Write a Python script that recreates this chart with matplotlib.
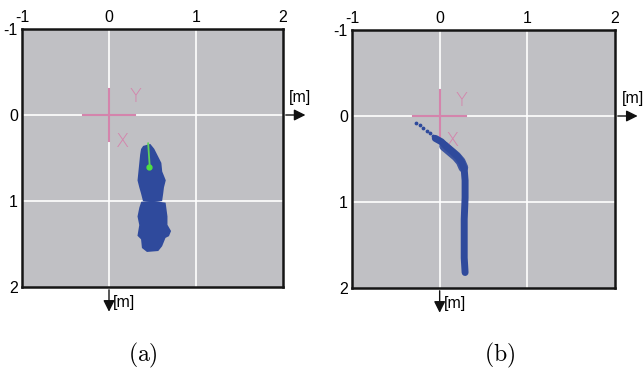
import matplotlib
matplotlib.use("Agg")
import matplotlib.pyplot as plt

plt.rcParams['font.family'] = ['Liberation Sans', 'DejaVu Sans']
plt.rcParams['mathtext.fontset'] = 'cm'

# axis ticks (both panels)
ticks = [-1, 0, 1, 2]
grid_at = [0, 1]

# panel (a): localisation estimates, two clusters (outlines)
blob1_x = [0.40, 0.47, 0.51, 0.55, 0.59, 0.60, 0.64, 0.62, 0.61, 0.60, 0.50, 0.40, 0.38, 0.36, 0.34, 0.35, 0.36, 0.37, 0.38]
blob1_y = [0.37, 0.35, 0.40, 0.48, 0.56, 0.66, 0.76, 0.84, 0.92, 0.99, 1.00, 0.99, 0.91, 0.84, 0.76, 0.66, 0.56, 0.46, 0.40]
blob2_x = [0.38, 0.50, 0.64, 0.66, 0.66, 0.70, 0.68, 0.64, 0.60, 0.56, 0.44, 0.39, 0.38, 0.34, 0.36, 0.34, 0.36]
blob2_y = [1.02, 1.01, 1.03, 1.18, 1.28, 1.35, 1.40, 1.42, 1.52, 1.57, 1.58, 1.54, 1.44, 1.40, 1.28, 1.18, 1.08]
green_x = [0.45, 0.46, 0.47]
green_y = [0.33, 0.48, 0.62]
green_dot = (0.46, 0.60)

# panel (b): trajectory
start_x = [-0.27, -0.23, -0.19, -0.15, -0.11, -0.08]
start_y = [0.08, 0.11, 0.14, 0.17, 0.20, 0.23]
traj_x = [-0.05, 0.02, 0.08, 0.15, 0.21, 0.25, 0.28, 0.29, 0.29, 0.28, 0.28, 0.28, 0.29]
traj_y = [0.26, 0.30, 0.36, 0.42, 0.48, 0.54, 0.62, 0.75, 0.95, 1.20, 1.45, 1.65, 1.82]
bend_x = [0.05, 0.12, 0.19, 0.24, 0.27]
bend_y = [0.35, 0.41, 0.47, 0.53, 0.60]

# robot frame labels per panel
frame_y_lbl = [(0.30, -0.22), (0.25, -0.18)]
frame_x_lbl = [(0.16, 0.31), (0.15, 0.29)]

bg = '#c0c0c4'
blue = '#2f4a9c'
pink = '#d484ac'

fig = plt.figure(figsize=(6.44, 3.74), dpi=100)
ax_a = fig.add_axes([22/644, 1 - 287/374, 261/644, 258/374])
ax_b = fig.add_axes([352/644, 1 - 288/374, 263/644, 258/374])

for i, ax in enumerate([ax_a, ax_b]):
    ax.set_facecolor(bg)
    ax.set_xlim(-1, 2)
    ax.set_ylim(2, -1)
    ax.set_xticks(ticks)
    ax.set_yticks(ticks)
    ax.set_xticklabels([str(t) for t in ticks])
    ax.set_yticklabels([str(t) for t in ticks])
    ax.xaxis.tick_top()
    ax.tick_params(length=0, labelsize=11.5, pad=3)
    for s in ax.spines.values():
        s.set_linewidth(1.8)
        s.set_color('#151515')
    for g in grid_at:
        ax.axvline(g, color='white', lw=1.4, alpha=0.85, zorder=1)
        ax.axhline(g, color='white', lw=1.4, alpha=0.85, zorder=1)

    # robot frame cross
    ax.plot([-0.3, 0.3], [0, 0], color=pink, lw=1.5, zorder=2)
    ax.plot([0, 0], [-0.3, 0.3], color=pink, lw=1.5, zorder=2)
    ax.text(*frame_y_lbl[i], 'Y', color=pink, fontsize=14, fontweight='light',
            ha='center', va='center', zorder=2, family='DejaVu Sans')
    ax.text(*frame_x_lbl[i], 'X', color=pink, fontsize=14, fontweight='light',
            ha='center', va='center', zorder=2, family='DejaVu Sans')

    # axis arrows
    ax.annotate('', xy=(2.29, 0), xytext=(2.0, 0), xycoords='data', annotation_clip=False,
                arrowprops=dict(arrowstyle='-|>', color='#111', lw=1.0, mutation_scale=17))
    ax.annotate('', xy=(0, 2.32), xytext=(0, 2.0), xycoords='data', annotation_clip=False,
                arrowprops=dict(arrowstyle='-|>', color='#111', lw=1.0, mutation_scale=17))
    ax.text(2.2, -0.2, '[m]', fontsize=11.5, ha='center', va='center', clip_on=False)
    ax.text(0.05, 2.18, '[m]', fontsize=11.5, ha='left', va='center', clip_on=False)

# panel (a)
ax_a.fill(blob1_x, blob1_y, color=blue, zorder=3, lw=1.5, ec=blue)
ax_a.fill(blob2_x, blob2_y, color=blue, zorder=3, lw=1.5, ec=blue)
ax_a.plot(green_x, green_y, color='#5fd05a', lw=1.3, zorder=4)
ax_a.plot(*green_dot, 'o', color='#4fe040', ms=3.5, zorder=4)

# panel (b)
ax_b.scatter(start_x, start_y, s=3, color=blue, zorder=3)
ax_b.plot(traj_x, traj_y, color=blue, lw=5, solid_capstyle='round', zorder=3)
ax_b.plot(bend_x, bend_y, color=blue, lw=7, solid_capstyle='round', zorder=3, alpha=0.9)

fig.text(0.222, 0.05, r'$(\mathrm{a})$', fontsize=17, ha='center', va='center')
fig.text(0.775, 0.05, r'$(\mathrm{b})$', fontsize=17, ha='center', va='center')

fig.savefig('out.png', dpi=100)
